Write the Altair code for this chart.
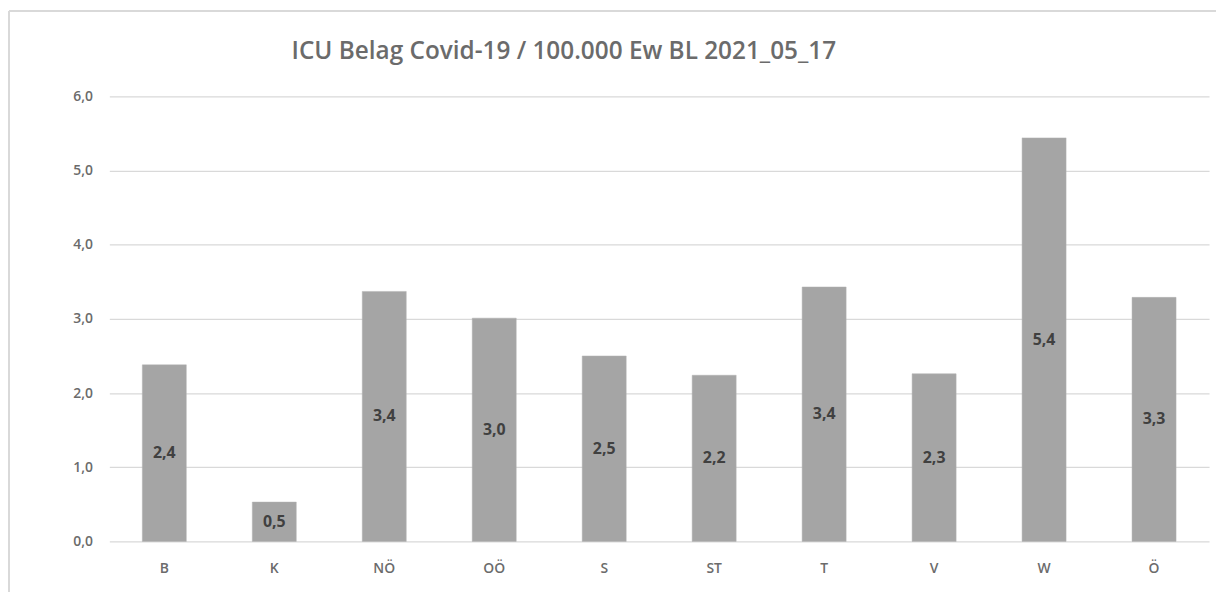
import altair as alt
import pandas as pd

regions = ["B", "K", "NÖ", "OÖ", "S", "ST", "T", "V", "W", "Ö"]
values = [2.38, 0.53, 3.37, 3.01, 2.50, 2.24, 3.43, 2.26, 5.44, 3.29]

df = pd.DataFrame({"region": regions, "value": values})
df["label"] = [f"{v:.1f}".replace(".", ",") for v in values]

FONT = "Open Sans"
W, H = 1107, 448

base = alt.Chart(df)

x_enc = alt.X("region:N", sort=regions, title=None,
              scale=alt.Scale(paddingInner=0.6, paddingOuter=0.3),
              axis=alt.Axis(labelAngle=0, domain=False, ticks=False, labelPadding=20,
                            labelColor="#6b6b6b", labelFont=FONT, labelFontSize=14,
                            labelFontWeight=600, grid=False))
y_enc = alt.Y("value:Q", title=None,
              scale=alt.Scale(domain=[0, 6], nice=False),
              axis=alt.Axis(values=[0, 1, 2, 3, 4, 5, 6], domain=False, ticks=False,
                            labelExpr="replace(format(datum.value, '.1f'), '.', ',')",
                            labelPadding=17, labelColor="#6b6b6b", labelFont=FONT,
                            labelFontSize=14, labelFontWeight=600,
                            gridColor="#d9d9d9", gridWidth=1.2))

bars = base.mark_bar(color="#a5a5a5", stroke="#b3b3b3", strokeWidth=0.5).encode(x=x_enc, y=y_enc)

labels = base.transform_calculate(mid="datum.value / 2").mark_text(
    font=FONT, fontSize=16, fontWeight="bold", color="#404040"
).encode(x=alt.X("region:N", sort=regions), y=alt.Y("mid:Q"), text="label:N")

frame_left = alt.Chart(df).mark_rule(color="#d9d9d9", strokeWidth=1.5, clip=False).encode(
    x=alt.value(-101), y=alt.value(-86), y2=alt.value(H + 60))
frame_top = alt.Chart(df).mark_rule(color="#d9d9d9", strokeWidth=1.5, clip=False).encode(
    x=alt.value(-101), x2=alt.value(W + 20), y=alt.value(-86))

chart = alt.layer(frame_left, frame_top, bars, labels).properties(
    width=W, height=H,
    title=alt.TitleParams("ICU Belag Covid-19 / 100.000 Ew BL 2021_05_17",
                          font=FONT, fontSize=24.5, fontWeight=600, color="#6b6b6b",
                          anchor="middle", frame="group", dx=-96, dy=55, offset=0),
    autosize=alt.AutoSizeParams(type="none"),
    padding={"left": 102, "top": 87, "right": 7, "bottom": 49},
).configure_view(stroke=None)

chart.save("out.html", embed_options={"renderer": "svg", "actions": False})
